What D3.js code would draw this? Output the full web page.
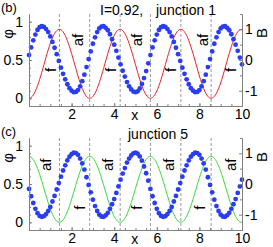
<!DOCTYPE html>
<html><head><meta charset="utf-8">
<script src="https://cdn.jsdelivr.net/npm/d3@7"></script>
<style>
body{margin:0;background:#fff}
svg{display:block}
text{font-family:"Liberation Sans",Arial,sans-serif;fill:#000}
</style>
</head><body>
<svg id="chart" width="273" height="247"></svg>
<script>
// ---------- data ----------
const xGrid = d3.range(101).map(i => +(i / 10).toFixed(1));

const blueB = [0.16,0.41,0.64,0.83,0.98,1.07,1.10,1.08,1.01,0.91,0.77,0.59,0.40,0.19,-0.03,-0.25,-0.45,-0.63,-0.79,-0.92,-1.00,-1.05,-1.04,-0.98,-0.86,-0.69,-0.48,-0.23,0.03,0.28,0.53,0.74,0.91,1.03,1.09,1.10,1.05,0.97,0.84,0.68,0.50,0.30,0.08,-0.14,-0.35,-0.54,-0.72,-0.86,-0.96,-1.03,-1.05,-1.02,-0.93,-0.78,-0.59,-0.36,-0.11,
  0.16,0.41,0.64,0.83,0.98,1.07,1.10,1.08,1.01,0.91,0.77,0.59,0.40,0.19,-0.03,-0.25,-0.45,-0.63,-0.79,-0.92,-1.00,-1.05,-1.04,-0.98,-0.86,-0.69,-0.48,-0.23,0.03,0.28,0.53,0.74,0.91,1.03,1.09,1.10,1.05,0.97,0.84,0.68,0.50,0.30,0.08,-0.14];

const blueC = [-0.16,-0.40,-0.62,-0.81,-0.95,-1.04,-1.07,-1.05,-0.98,-0.88,-0.75,-0.57,-0.39,-0.18,0.03,0.24,0.44,0.61,0.77,0.89,0.97,1.02,1.01,0.95,0.83,0.67,0.47,0.22,-0.03,-0.27,-0.51,-0.72,-0.88,-1.00,-1.06,-1.07,-1.02,-0.94,-0.81,-0.66,-0.49,-0.29,-0.08,0.14,0.34,0.52,0.70,0.83,0.93,1.00,1.02,0.99,0.90,0.76,0.57,0.35,0.11,
  -0.16,-0.40,-0.62,-0.81,-0.95,-1.04,-1.07,-1.05,-0.98,-0.88,-0.75,-0.57,-0.39,-0.18,0.03,0.24,0.44,0.61,0.77,0.89,0.97,1.02,1.01,0.95,0.83,0.67,0.47,0.22,-0.03,-0.27,-0.51,-0.72,-0.88,-1.00,-1.06,-1.07,-1.02,-0.94,-0.81,-0.66,-0.49,-0.29,-0.08,0.14];

const phiB = [0,0.011,0.043,0.095,0.164,0.247,0.340,0.438,0.536,0.631,0.716,0.789,0.846,0.883,0.899,0.894,0.867,0.820,0.755,0.675,0.584,0.487,0.388,0.292,0.204,0.127,0.067,0.024,0.003,0.003,0.024,0.067,0.127,0.204,0.292,0.388,0.487,0.584,0.675,0.755,0.820,0.867,0.894,0.899,0.883,0.846,0.789,0.716,0.631,0.536,0.438,0.340,0.247,0.164,0.095,0.043,0.011,
  0,0.011,0.043,0.095,0.164,0.247,0.340,0.438,0.536,0.631,0.716,0.789,0.846,0.883,0.899,0.894,0.867,0.820,0.755,0.675,0.584,0.487,0.388,0.292,0.204,0.127,0.067,0.024,0.003,0.003,0.024,0.067,0.127,0.204,0.292,0.388,0.487,0.584,0.675,0.755,0.820,0.867,0.894,0.899];

const phiC = [0.86,0.850,0.819,0.769,0.703,0.624,0.536,0.442,0.348,0.257,0.175,0.106,0.052,0.016,0.001,0.006,0.032,0.077,0.139,0.215,0.302,0.394,0.489,0.581,0.665,0.738,0.796,0.837,0.857,0.857,0.837,0.796,0.738,0.665,0.581,0.489,0.394,0.302,0.215,0.139,0.077,0.032,0.006,0.001,0.016,0.052,0.106,0.175,0.257,0.348,0.442,0.536,0.624,0.703,0.769,0.819,0.850,
  0.86,0.850,0.819,0.769,0.703,0.624,0.536,0.442,0.348,0.257,0.175,0.106,0.052,0.016,0.001,0.006,0.032,0.077,0.139,0.215,0.302,0.394,0.489,0.581,0.665,0.738,0.796,0.837,0.857,0.857,0.837,0.796,0.738,0.665,0.581,0.489,0.394,0.302,0.215,0.139,0.077,0.032,0.006,0.001];

const xTicks = [2, 4, 6, 8, 10];
const phiTicks = [0, 0.5, 1];
const bTicks = [-1, 0, 1];
const boundaries = [1.43, 2.85, 4.28, 5.7, 7.13, 8.55];
const afPosB = [2.3, 5.07, 8.15];
const fPosB = [1.0, 3.83, 6.64, 9.46];
const afPosC = [0.8, 3.68, 6.57, 9.46];
const fPosC = [2.4, 5.05, 8.0];

// ---------- drawing ----------
const svg = d3.select("#chart");
svg.append("rect").attr("width", 273).attr("height", 247).attr("fill", "#fff");

const x = d3.scaleLinear().domain([0, 10]).range([29, 242]);
const PH = 92;

function panel(cfg) {
  const y0 = cfg.top;
  const yPhi = d3.scaleLinear().domain([-0.1, 1.1]).range([y0 + PH, y0]);
  const yB = d3.scaleLinear().domain([-1.5, 1.5]).range([y0 + PH, y0]);
  const g = svg.append("g");

  // dashed boundaries
  g.selectAll("line.bd").data(boundaries).enter().append("line")
    .attr("x1", d => x(d)).attr("x2", d => x(d))
    .attr("y1", y0).attr("y2", y0 + PH)
    .attr("stroke", "#9a9a9a").attr("stroke-width", 1).attr("stroke-dasharray", "3,2");

  // phi curve
  g.append("path").datum(xGrid.map((d, i) => [d, cfg.phi[i]]))
    .attr("fill", "none").attr("stroke", cfg.color).attr("stroke-width", 1)
    .attr("d", d3.line().x(d => x(d[0])).y(d => yPhi(d[1])).curve(d3.curveMonotoneX));

  // blue dots
  g.selectAll("circle").data(xGrid.map((d, i) => [d, cfg.blue[i]])).enter().append("circle")
    .attr("cx", d => x(d[0])).attr("cy", d => yB(d[1])).attr("r", 2.4)
    .attr("fill", "#2b3df2");

  // axes
  const ax = (sel) => { sel.select(".domain").attr("stroke", "#808080");
    sel.selectAll(".tick line").attr("stroke", "#808080");
    sel.selectAll(".tick text").attr("font-size", 14).attr("fill", "#000")
       .attr("font-family", '"Liberation Sans",Arial,sans-serif'); };

  g.append("g").attr("transform", `translate(0,${y0 + PH})`)
    .call(d3.axisBottom(x).tickValues(d3.range(0.5, 10, 0.5)).tickSize(-2).tickSizeOuter(0).tickFormat(""))
    .call(ax);
  g.append("g").attr("transform", `translate(0,${y0 + PH})`)
    .call(d3.axisBottom(x).tickValues(xTicks).tickSize(-3).tickSizeOuter(0).tickPadding(3).tickFormat(d3.format("d")))
    .call(ax);

  g.append("g").attr("transform", `translate(${x(0)},0)`)
    .call(d3.axisLeft(yPhi).tickValues(d3.range(0, 1.05, 0.1)).tickSize(-2).tickSizeOuter(0).tickFormat(""))
    .call(ax);
  g.append("g").attr("transform", `translate(${x(0)},0)`)
    .call(d3.axisLeft(yPhi).tickValues(phiTicks).tickSize(-3).tickSizeOuter(0).tickPadding(6).tickFormat(d => String(d)))
    .call(ax);

  g.append("g").attr("transform", `translate(${x(10)},0)`)
    .call(d3.axisRight(yB).tickValues([-1.5, -0.5, 0.5, 1.5]).tickSize(-2).tickSizeOuter(0).tickFormat(""))
    .call(ax);
  g.append("g").attr("transform", `translate(${x(10)},0)`)
    .call(d3.axisRight(yB).tickValues(bTicks).tickSize(-3).tickSizeOuter(0).tickPadding(3).tickFormat(d => String(d)))
    .call(ax);

  // x label
  g.append("text").attr("x", x(4.96)).attr("y", y0 + PH + 14).attr("text-anchor", "middle")
    .attr("font-size", 14).text("x");

  // y labels
  g.append("text").attr("transform", `translate(13,${y0 + 20}) rotate(-90)`).attr("text-anchor", "middle")
    .attr("font-size", 15).text("φ");
  g.append("text").attr("transform", `translate(267,${y0 + 19}) rotate(-90)`).attr("text-anchor", "middle")
    .attr("font-size", 15).text("B");

  // panel letter and titles
  g.append("text").attr("x", 1).attr("y", y0 - 2).attr("font-size", 13).text(cfg.letter);
  cfg.titles.forEach(t => g.append("text").attr("x", t[0]).attr("y", y0 + 1).attr("font-size", 14).text(t[1]));

  // af / f annotations
  cfg.af.forEach(p => g.append("text")
    .attr("transform", `translate(${x(p)},${yPhi(cfg.afY)}) rotate(-90)`)
    .attr("text-anchor", "middle").attr("dy", "0.35em").attr("font-size", 15).text("af"));
  cfg.f.forEach(p => g.append("text")
    .attr("transform", `translate(${x(p)},${yPhi(cfg.fY)}) rotate(-90)`)
    .attr("text-anchor", "middle").attr("dy", "0.35em").attr("font-size", 15).text("f"));
}

panel({ top: 14, phi: phiB, blue: blueB, color: "#e3262b", letter: "(b)",
  titles: [[100, "I=0.92,"], [156, "junction 1"]], af: afPosB, f: fPosB, afY: 0.76, fY: 0.37 });
panel({ top: 138, phi: phiC, blue: blueC, color: "#3fd83f", letter: "(c)",
  titles: [[128, "junction 5"]], af: afPosC, f: fPosC, afY: 0.75, fY: 0.19 });
</script>
</body></html>
